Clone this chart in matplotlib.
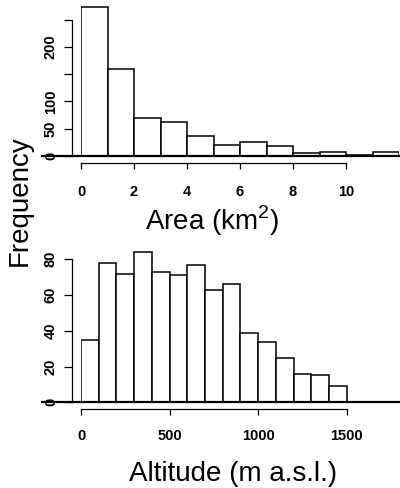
import numpy as np
import matplotlib
matplotlib.use("Agg")
import matplotlib.pyplot as plt
import matplotlib.transforms as mtransforms

# Histogram data
area_edges = np.arange(0, 13, 1)
area_counts = [274, 159, 70, 63, 36, 20, 26, 18, 6, 8, 2, 8]
area_ticks = [0, 2, 4, 6, 8, 10]
area_yticks = [0, 50, 100, 150, 200, 250]
area_ylabels = ['0', '50', '100', '', '200', '']

alt_edges = np.arange(0, 1600, 100)
alt_counts = [35, 78, 72, 84, 73, 71, 77, 63, 66, 39, 34, 25, 16, 15, 9]
alt_ticks = [0, 500, 1000, 1500]
alt_yticks = [0, 20, 40, 60, 80]

plt.rcParams['font.family'] = ['Liberation Sans', 'DejaVu Sans']
plt.rcParams['mathtext.fontset'] = 'custom'
plt.rcParams['mathtext.rm'] = 'Liberation Sans'

W, H = 400, 488
fig = plt.figure(figsize=(W / 100, H / 100), dpi=100)


# pixel box (from top-left) -> figure rect
def box(x0, y0, x1, y1):
    return [x0 / W, 1 - y1 / H, (x1 - x0) / W, (y1 - y0) / H]


def style_axes(ax, edges, counts, xticks, xbound, yticks, ylabels, xpad):
    ax.bar(edges[:-1], counts, width=np.diff(edges), align='edge',
           facecolor='white', edgecolor='black', linewidth=1.1)
    for s in ['top', 'right']:
        ax.spines[s].set_visible(False)
    ax.spines['left'].set_position(('outward', 6.5))
    ax.spines['bottom'].set_position(('outward', 5))
    ax.spines['left'].set_bounds(yticks[0], yticks[-1])
    ax.spines['bottom'].set_bounds(0, xbound)
    for s in ['left', 'bottom']:
        ax.spines[s].set_linewidth(0.9)
    ax.set_xticks(xticks)
    ax.set_xticklabels([str(t) for t in xticks], fontsize=10.5, fontweight='bold')
    ax.set_yticks(yticks)
    ax.set_yticklabels(ylabels, fontsize=10.5, fontweight='bold',
                       rotation=90, va='center')
    ax.tick_params(axis='y', length=5.8, width=0.9, pad=4.3)
    ax.tick_params(axis='x', length=4.3, width=0.9, pad=xpad)
    # horizontal zero line reaching into the left margin
    trans = mtransforms.blended_transform_factory(fig.transFigure, ax.transData)
    ax.plot([42 / W, 1.0], [0, 0], color='black', linewidth=1.6,
            transform=trans, clip_on=False, zorder=5)


ax1 = fig.add_axes(box(81, 2, 399, 156))
ax1.set_xlim(0, 12)
ax1.set_ylim(0, 154 / 0.5452)
style_axes(ax1, area_edges, area_counts, area_ticks, 10,
           area_yticks, area_ylabels, 11.8)

ax2 = fig.add_axes(box(81, 245, 399.8, 402.3))
ax2.set_xlim(0, 1800)
ax2.set_ylim(0, (402.3 - 245) / 1.7875)
style_axes(ax2, alt_edges, alt_counts, alt_ticks, 1500,
           alt_yticks, [str(t) for t in alt_yticks], 9.8)

fig.text(212 / W, 1 - 230.5 / H, 'Area (km$^{2}$)', fontsize=20,
         ha='center', va='baseline')
fig.text(233.5 / W, 1 - 481 / H, 'Altitude (m a.s.l.)', fontsize=20,
         ha='center', va='baseline')
fig.text(27 / W, 1 - 200.5 / H, 'Frequency', fontsize=20, rotation=90,
         rotation_mode='anchor', ha='center', va='baseline')

fig.savefig('out.png', dpi=100)
